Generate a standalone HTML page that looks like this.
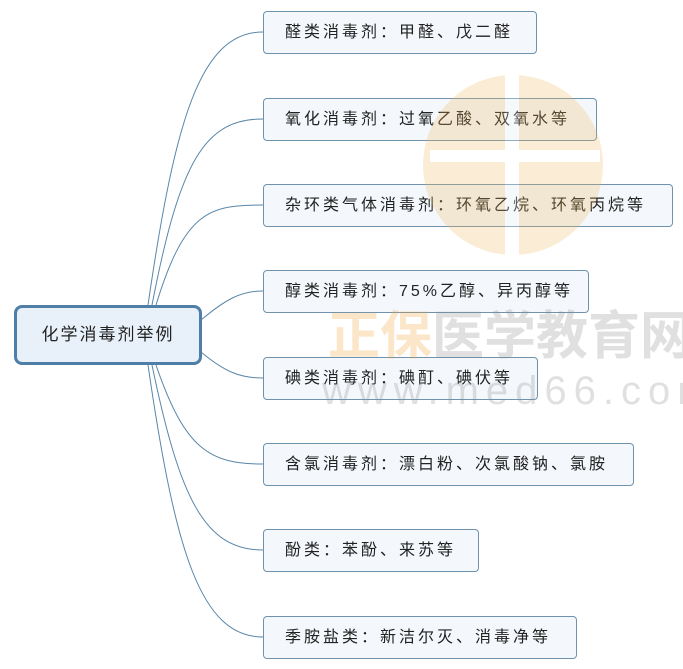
<!DOCTYPE html>
<html><head><meta charset="utf-8"><style>
body{margin:0;width:683px;height:669px;background:#fff;overflow:hidden;position:relative;font-family:"Liberation Sans","Noto Sans CJK SC",sans-serif}
.b{position:absolute;left:263px;height:43px;border:1px solid #6f93ad;border-radius:4px;background:#f4f8fc;box-sizing:border-box;font-size:16px;line-height:41px;padding-left:21px;letter-spacing:3px;color:#222;white-space:nowrap}
.c{position:absolute;left:14px;top:305px;width:188px;height:60px;box-sizing:border-box;border:3px solid #4f7fa6;border-radius:8px;background:#e8f1fa;font-size:17px;line-height:54px;text-align:center;letter-spacing:2px;color:#222}
svg{position:absolute;left:0;top:0}
</style></head><body>
<svg width="683" height="669">
<g fill="none" stroke="#5a86a8" stroke-width="1">
<path d="M148 305 C175 120 200 32 263 32"/>
<path d="M152 305 C180 160 205 119 263 119"/>
<path d="M156 305 C185 210 210 205 263 205"/>
<path d="M201 320 C225 300 240 291 263 291"/>
<path d="M201 352 C225 372 240 378 263 378"/>
<path d="M156 365 C185 450 210 464 263 464"/>
<path d="M152 365 C180 500 205 550 263 550"/>
<path d="M148 365 C175 550 200 637 263 637"/>
</g>
</svg>
<div class="c">化学消毒剂举例</div>
<div class="b" style="top:11px;width:274px">醛类消毒剂：甲醛、戊二醛</div>
<div class="b" style="top:98px;width:334px">氧化消毒剂：过氧乙酸、双氧水等</div>
<div class="b" style="top:184px;width:410px">杂环类气体消毒剂：环氧乙烷、环氧丙烷等</div>
<div class="b" style="top:270px;width:326px">醇类消毒剂：75%乙醇、异丙醇等</div>
<div class="b" style="top:357px;width:275px">碘类消毒剂：碘酊、碘伏等</div>
<div class="b" style="top:443px;width:371px">含氯消毒剂：漂白粉、次氯酸钠、氯胺</div>
<div class="b" style="top:529px;width:216px">酚类：苯酚、来苏等</div>
<div class="b" style="top:616px;width:314px">季胺盐类：新洁尔灭、消毒净等</div>
<svg width="683" height="669" style="opacity:0.25">
<circle cx="513" cy="165" r="90" fill="#f0b85a"/>
<rect x="505" y="75" width="14" height="180" fill="#fff"/>
<rect x="430" y="150" width="170" height="12" fill="#fff"/>
<text x="328" y="354" font-size="52" font-family="Noto Sans CJK SC,sans-serif" font-weight="bold" fill="#f0a030">正保</text>
<text x="432" y="354" font-size="52" font-family="Noto Sans CJK SC,sans-serif" font-weight="bold" fill="#888">医学教育网</text>
<text x="322" y="404" font-size="40" font-family="Liberation Sans,sans-serif" fill="#888" letter-spacing="7">www.med66.com</text>
</svg>
</body></html>
